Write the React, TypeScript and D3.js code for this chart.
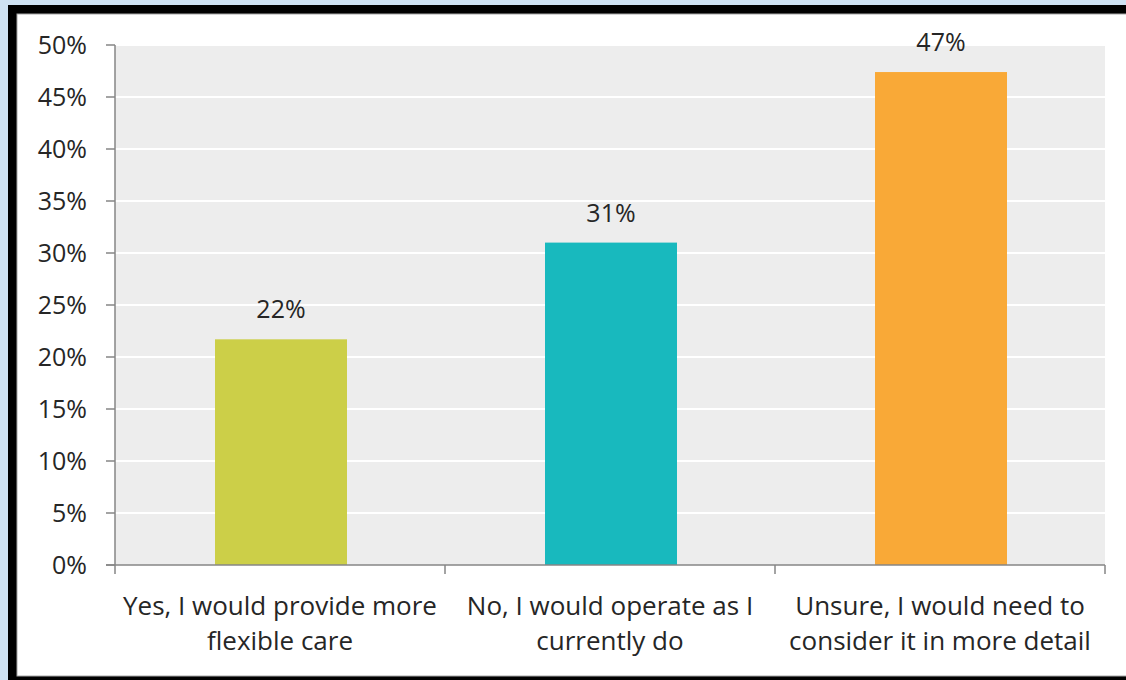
import React from "react";
import * as d3 from "d3";

const categories = [
  ["Yes, I would provide more", "flexible care"],
  ["No, I would operate as I", "currently do"],
  ["Unsure, I would need to", "consider it in more detail"],
];
const values = [21.7, 31.0, 47.4];
const labels = ["22%", "31%", "47%"];
const colors = ["#cccf48", "#18b9be", "#f9a937"];
const yTicks = [0, 5, 10, 15, 20, 25, 30, 35, 40, 45, 50];

const W = 1126;
const H = 680;
const FONT = "'Open Sans', 'Noto Sans', sans-serif";

export default function App() {
  const left = 115, right = 1105, top = 45, bottom = 565;
  const x = d3.scaleBand<number>().domain(categories.map((_, i) => i)).range([left, right]).paddingInner(0).paddingOuter(0);
  const y = d3.scaleLinear().domain([0, 50]).range([bottom, top]);
  const bw = x.bandwidth() * 0.4;
  const boundaries = [left, ...categories.map((_, i) => (x(i) as number) + x.bandwidth())];
  return (
    <svg width={W} height={H} style={{ position: "absolute", left: 0, top: 0, display: "block" }}>
      <rect x={0} y={0} width={W} height={H} fill="#cfe2f3" />
      <rect x={8} y={5} width={W} height={H} fill="#000" />
      <rect x={17} y={14} width={W} height={662} fill="#fff" stroke="#a6a6a6" strokeWidth={1} />
      <rect x={left} y={top} width={right - left} height={bottom - top} fill="#ededed" />
      {yTicks.map((t) => (
        <g key={t}>
          {t > 0 && <line x1={left} x2={right} y1={y(t)} y2={y(t)} stroke="#fff" strokeWidth={2} />}
          <line x1={106} x2={left} y1={y(t)} y2={y(t)} stroke="#868686" strokeWidth={1.5} />
          <text x={87} y={y(t) + 8.5} textAnchor="end" fontFamily={FONT} fontSize={25} fill="#262626">{t}%</text>
        </g>
      ))}
      {values.map((v, i) => {
        const cx = (x(i) as number) + x.bandwidth() / 2 + 1;
        return (
          <g key={i}>
            <rect x={cx - bw / 2} y={y(v)} width={bw} height={bottom - y(v)} fill={colors[i]} />
            <text x={cx} y={y(v) - 21} textAnchor="middle" fontFamily={FONT} fontSize={25} fill="#262626">{labels[i]}</text>
            {categories[i].map((line, j) => (
              <text key={j} x={(x(i) as number) + x.bandwidth() / 2} y={615 + j * 35} textAnchor="middle" fontFamily={FONT} fontSize={26} fill="#262626">{line}</text>
            ))}
          </g>
        );
      })}
      <line x1={left} x2={left} y1={top} y2={bottom} stroke="#868686" strokeWidth={1.5} />
      <line x1={106} x2={right} y1={bottom} y2={bottom} stroke="#868686" strokeWidth={1.5} />
      {boundaries.map((b, i) => (
        <line key={i} x1={b} x2={b} y1={bottom} y2={bottom + 9} stroke="#868686" strokeWidth={1.5} />
      ))}
    </svg>
  );
}
